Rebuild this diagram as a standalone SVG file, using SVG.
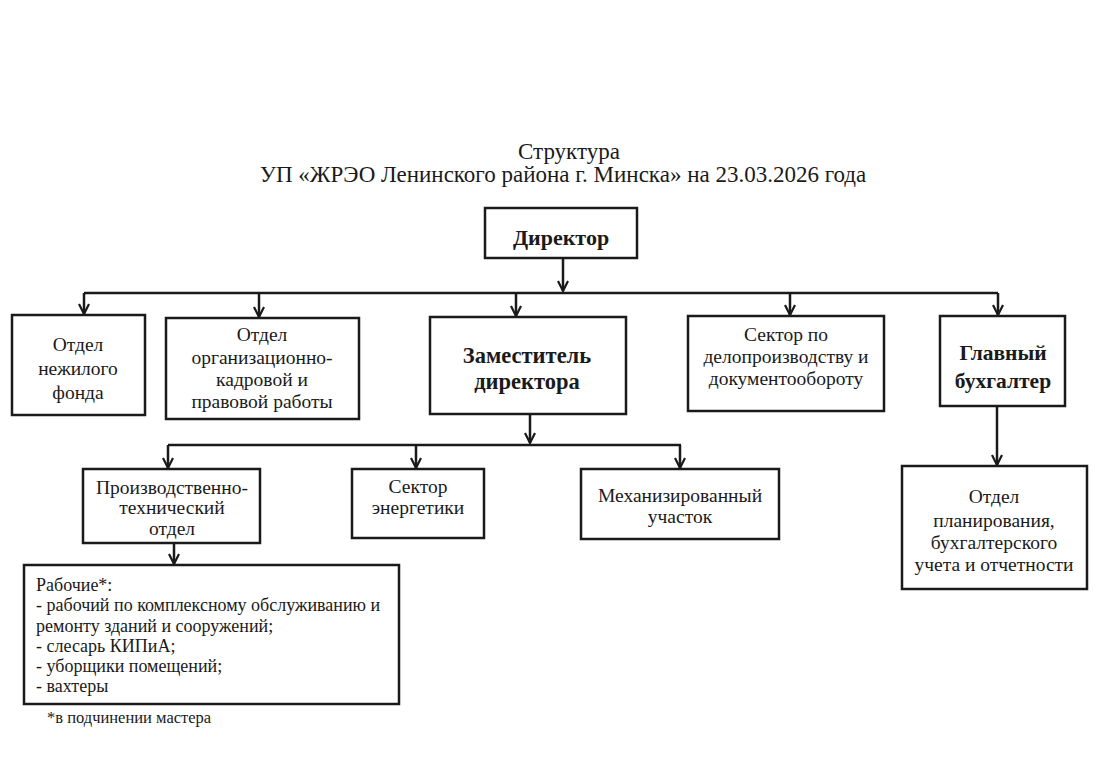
<svg xmlns="http://www.w3.org/2000/svg" width="1111" height="777" viewBox="0 0 1111 777">
<style>
.bg{fill:#ffffff}
.box{fill:#ffffff;stroke:#1a1a1a;stroke-width:2.5}
.ln{fill:none;stroke:#1a1a1a;stroke-width:2.5}
.h{font-family:"Liberation Serif","Times New Roman",serif;font-size:23px;fill:#1a1a1a;text-anchor:middle}
.t{font-family:"Liberation Serif","Times New Roman",serif;font-size:19.5px;fill:#1a1a1a;text-anchor:middle}
.b{font-family:"Liberation Serif","Times New Roman",serif;font-size:21.5px;font-weight:bold;fill:#1a1a1a;text-anchor:middle}
.l{font-family:"Liberation Serif","Times New Roman",serif;font-size:18px;fill:#1a1a1a}
.n{font-family:"Liberation Serif","Times New Roman",serif;font-size:16.5px;fill:#1a1a1a}
</style>
<defs>
<marker id="ah" viewBox="0 0 12 12" refX="11" refY="6" markerWidth="12" markerHeight="12" markerUnits="userSpaceOnUse" orient="auto">
<path d="M1,1 L11,6 L1,11" fill="none" stroke="#1a1a1a" stroke-width="2.2"/>
</marker>
</defs>
<rect class="bg" x="0" y="0" width="1111" height="777"/>
<g id="title">
<text class="h" x="569" y="159">Структура</text>
<text class="h" x="563" y="182">УП «ЖРЭО Ленинского района г. Минска» на 23.03.2026 года</text>
</g>
<g id="connectors">
<path class="ln" d="M563,258 V291" marker-end="url(#ah)"/>
<path class="ln" d="M84,293 H998"/>
<path class="ln" d="M84,293 V314" marker-end="url(#ah)"/>
<path class="ln" d="M259,293 V317" marker-end="url(#ah)"/>
<path class="ln" d="M516,293 V316" marker-end="url(#ah)"/>
<path class="ln" d="M790,293 V315" marker-end="url(#ah)"/>
<path class="ln" d="M998,293 V315" marker-end="url(#ah)"/>
<path class="ln" d="M530,414 V443" marker-end="url(#ah)"/>
<path class="ln" d="M168,445 H681"/>
<path class="ln" d="M168,445 V468" marker-end="url(#ah)"/>
<path class="ln" d="M416,445 V468" marker-end="url(#ah)"/>
<path class="ln" d="M680,445 V468" marker-end="url(#ah)"/>
<path class="ln" d="M174,543 V564" marker-end="url(#ah)"/>
<path class="ln" d="M997,406 V465" marker-end="url(#ah)"/>
</g>
<g id="director">
<rect class="box" x="485" y="208" width="152" height="50"/>
<text class="b" x="561" y="245" style="font-size:22px">Директор</text>
</g>
<g id="nonres">
<rect class="box" x="12" y="315" width="133" height="100"/>
<text class="t" x="78" y="351">Отдел</text>
<text class="t" x="78" y="375">нежилого</text>
<text class="t" x="78" y="399">фонда</text>
</g>
<g id="hr">
<rect class="box" x="166" y="318" width="193" height="101"/>
<text class="t" x="262" y="341">Отдел</text>
<text class="t" x="262" y="364">организационно-</text>
<text class="t" x="262" y="386">кадровой и</text>
<text class="t" x="262" y="408">правовой работы</text>
</g>
<g id="deputy">
<rect class="box" x="430" y="317" width="196" height="97"/>
<text class="b" x="527" y="363" style="font-size:22.5px">Заместитель</text>
<text class="b" x="527" y="389" style="font-size:22.5px">директора</text>
</g>
<g id="docs">
<rect class="box" x="688" y="316" width="196" height="95"/>
<text class="t" x="786" y="341">Сектор по</text>
<text class="t" x="786" y="363">делопроизводству и</text>
<text class="t" x="786" y="385">документообороту</text>
</g>
<g id="accountant">
<rect class="box" x="940" y="316" width="125" height="90"/>
<text class="b" x="1003" y="360">Главный</text>
<text class="b" x="1003" y="388">бухгалтер</text>
</g>
<g id="pto">
<rect class="box" x="83" y="469" width="177" height="74"/>
<text class="t" x="172" y="494">Производственно-</text>
<text class="t" x="172" y="514">технический</text>
<text class="t" x="172" y="535">отдел</text>
</g>
<g id="energy">
<rect class="box" x="352" y="469" width="132" height="69"/>
<text class="t" x="418" y="493">Сектор</text>
<text class="t" x="418" y="514">энергетики</text>
</g>
<g id="mech">
<rect class="box" x="581" y="469" width="198" height="70"/>
<text class="t" x="680" y="502">Механизированный</text>
<text class="t" x="680" y="523">участок</text>
</g>
<g id="planning">
<rect class="box" x="902" y="466" width="185" height="123"/>
<text class="t" x="994" y="503">Отдел</text>
<text class="t" x="994" y="527">планирования,</text>
<text class="t" x="994" y="549">бухгалтерского</text>
<text class="t" x="994" y="571">учета и отчетности</text>
</g>
<g id="workers">
<rect class="box" x="24" y="565" width="375" height="139"/>
<text class="l" x="36" y="591">Рабочие*:</text>
<text class="l" x="36" y="611">- рабочий по комплексному обслуживанию и</text>
<text class="l" x="36" y="632">ремонту зданий и сооружений;</text>
<text class="l" x="36" y="652">- слесарь КИПиА;</text>
<text class="l" x="36" y="672">- уборщики помещений;</text>
<text class="l" x="36" y="692">- вахтеры</text>
</g>
<g id="footnote">
<text class="n" x="47" y="723">*в подчинении мастера</text>
</g>
</svg>
